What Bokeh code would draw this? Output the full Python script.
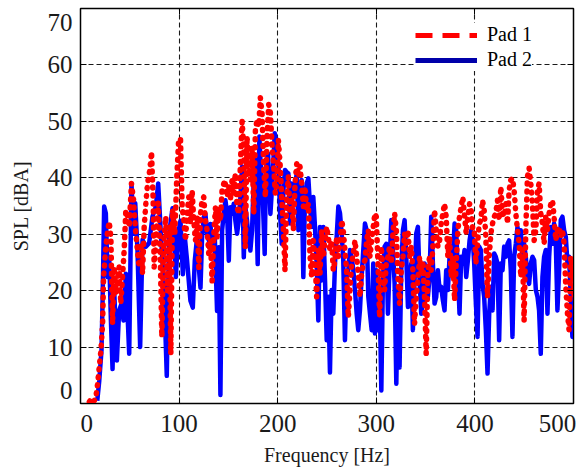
from bokeh.plotting import figure
from bokeh.models import Range1d, FixedTicker, LinearAxis, Legend, LegendItem
from bokeh.embed import file_html
from bokeh.resources import INLINE

# ---------------- data ----------------
series_names = ["Pad 1", "Pad 2"]
x_ticks = [0, 100, 200, 300, 400, 500]
y_ticks = [0, 10, 20, 30, 40, 50, 60, 70]

# shared frequency samples above 200 Hz
freq_hi = [
    200.7, 202.4, 204.1, 205.8, 207.4, 209.1, 210.8, 212.5, 214.2, 215.9,
    217.6, 219.3, 221.0, 222.6, 224.3, 226.0, 227.7, 229.4, 231.1, 232.8,
    234.5, 236.1, 237.8, 239.5, 241.2, 242.9, 244.6, 246.3, 248.0, 249.7,
    251.3, 253.0, 254.7, 256.4, 258.1, 259.8, 261.5, 263.2, 264.9, 266.5,
    268.2, 269.9, 271.6, 273.3, 275.0, 276.7, 278.4, 280.1, 281.7, 283.4,
    285.1, 286.8, 288.5, 290.2, 291.9, 293.6, 295.3, 296.9, 298.6,
    300.0, 301.7, 303.4, 305.1, 306.7, 308.4, 310.1, 311.8, 313.5, 315.2,
    316.9, 318.6, 320.3, 321.9, 323.6, 325.3, 327.0, 328.7, 330.4, 332.1,
    333.8, 335.5, 337.1, 338.8, 340.5, 342.2, 343.9, 345.6, 347.3, 349.0,
    350.6, 352.3, 354.0, 355.7, 357.4, 359.1, 360.8, 362.5, 364.2, 365.8,
    367.5, 369.2, 370.9, 372.6, 374.3, 376.0, 377.7, 379.4, 381.0, 382.7,
    384.4, 386.1, 387.8, 389.5, 391.2, 392.9, 394.6, 396.2, 397.9,
    399.3, 401.0, 402.7, 404.4, 406.0, 407.7, 409.4, 411.1, 412.8,
    414.5, 416.2, 417.9, 419.6, 421.2, 422.9, 424.6, 426.3, 428.0, 429.7,
    431.4, 433.1, 434.7, 436.4, 438.1, 439.8, 441.5, 443.2, 444.9, 446.6,
    448.3, 449.9, 451.6, 453.3, 455.0, 456.7, 458.4, 460.1, 461.8, 463.5,
    465.1, 466.8, 468.5, 470.2, 471.9, 473.6, 475.3, 477.0, 478.7, 480.3,
    482.0, 483.7, 485.4, 487.1, 488.8, 490.5, 492.2, 493.9, 495.5, 497.2,
    498.9, 500.6,
]

pad1_freq_lo = [
    9, 10.5, 12, 14, 15.6, 17.3, 19, 20.7, 22.4, 23.4,
    25.7, 27.5, 29.1, 30.8, 32.5, 34.2, 36, 37.6, 39.2, 40.9,
    42.6, 44.3, 46, 47.7, 49.4, 51.7, 53.8, 56.1, 57.8, 59.5,
    61.2, 62.9, 64.6, 66.3, 68, 70.3, 72, 73.7, 74.7, 76.4,
    78.8, 80.8, 82.5, 84.2, 86.5, 88.2, 89.9, 91.6, 93.3, 95.6,
    97.7, 99.5,
    101.4, 103.1, 104.8, 106.5, 108.1, 109.8, 111.5, 113.2, 114.9, 116.6,
    118.3, 120.0, 121.7, 123.3, 125.0, 126.7, 128.4, 130.1, 131.8, 133.5,
    135.2, 136.9, 138.5, 140.2, 141.9, 143.6, 146.3, 148.7, 150.4, 152.0,
    153.7, 155.4, 157.1, 158.8, 160.5, 162.2, 163.9, 165.6, 167.2, 168.9,
    170.6, 172.3, 174.0, 175.7, 177.4, 179.1, 180.8, 182.4, 184.1, 185.8,
    187.5, 189.2, 190.9, 192.6, 194.3, 196.0, 197.6, 199.3,
]
pad1_spl = [
    0.3, 0.8, 0.3, 0.5, 1.1, 3.4, 6.4, 9.4, 14.1, 22.4,
    27.8, 30.5, 32.2, 29.5, 14.1, 24.2, 19.5, 21.2, 24.2, 17.7,
    22.4, 27.2, 34.3, 33.0, 31.3, 39.0, 36.1, 30.1, 27.0, 24.2,
    28.4, 23.0, 31.3, 35.5, 39.0, 41.4, 44.6, 36.1, 24.2, 28.4,
    35.5, 27.2, 11.8, 28.4, 33.1, 20.0, 31.3, 8.8, 34.3, 30.1,
    40.2, 46.5,
    47.0, 34.8, 32.4, 28.9, 33.6, 36.6, 31.8, 37.8, 32.4, 28.9,
    33.0, 24.1, 33.6, 36.0, 36.6, 32.4, 30.7, 26.5, 28.9, 21.7,
    30.1, 34.8, 29.5, 34.8, 32.4, 37.8, 39.6, 36.6, 38.4, 36.0,
    39.6, 37.2, 40.8, 34.8, 33.6, 42.6, 50.0, 45.5, 27.7, 47.3,
    42.6, 39.6, 45.5, 33.6, 48.5, 50.3, 49.1, 54.2, 51.5, 42.0,
    36.6, 47.3, 53.0, 51.5, 45.5, 42.0, 37.2, 39.6,
    46.7, 42.5, 36.6, 30.7, 23.6, 36.6, 40.2, 33.7, 36.6, 30.7,
    39.0, 42.5, 40.2, 42.0, 39.0, 34.9, 38.4, 34.3, 35.4, 26.0,
    22.4, 28.9, 26.0, 18.9, 27.2, 23.0, 30.7, 26.0, 28.9, 31.3,
    29.5, 27.2, 28.9, 23.6, 25.4, 29.5, 26.0, 28.9, 32.5, 30.7,
    27.2, 23.6, 15.3, 20.1, 24.8, 26.6, 28.9, 26.0, 23.0, 18.9,
    23.0, 24.8, 25.4, 28.9, 30.7, 26.0, 28.9, 31.3, 33.7,
    33.1, 24.8, 15.3, 27.8, 23.6, 20.1, 24.8, 26.0, 27.8, 24.8,
    30.1, 33.7, 30.7, 22.4, 17.7, 23.6, 26.0, 30.1, 27.8, 30.7,
    26.0, 27.8, 23.6, 14.1, 18.9, 21.8, 26.0, 23.6, 24.8, 18.9,
    8.8, 23.6, 26.0, 23.6, 27.8, 34.3, 30.7, 27.8, 28.9, 31.9,
    33.7, 35.4, 33.1, 26.0, 29.5, 22.4, 26.0, 18.3, 24.8, 30.7,
    33.1, 34.9, 36.6, 33.1, 30.1, 33.1, 35.4, 34.3, 30.7,
    30.7, 24.8, 28.3, 31.9, 32.5, 36.0, 34.3, 29.5, 18.9,
    26.0, 30.1, 31.9, 33.1, 33.7, 36.0, 32.5, 38.4, 33.7, 33.1,
    35.4, 31.9, 37.8, 39.6, 39.9, 37.8, 33.7, 30.7, 28.3, 22.4,
    27.2, 14.7, 30.7, 40.2, 41.7, 39.0, 35.4, 28.9, 30.7, 37.8,
    39.0, 33.7, 31.9, 28.3, 33.1, 30.7, 33.7, 35.4, 36.0, 33.1,
    28.9, 30.7, 31.3, 29.5, 30.7, 28.3, 20.7, 15.9, 13.0, 26.0,
    23.6, 18.9,
]

pad2_freq_lo = [
    17, 19, 21.3, 22.4, 24.0, 25.7, 27.4, 29.1, 30.8, 32.5,
    34.2, 36.9, 39.2, 41.6, 43.6, 46.0, 49.4, 51.7, 53.8, 55.5,
    57.8, 60.5, 62.9, 66.3, 69.6, 73.0, 76.4, 78.8, 81.5, 84.8,
    87.5, 89.9, 93.3, 96.7, 99.0,
    101.4, 103.8, 105.8, 108.1, 111.5, 113.9, 115.9, 118.3, 120.0, 121.7,
    123.3, 125.0, 126.7, 128.4, 130.1, 131.8, 133.5, 136.2, 138.5, 140.2,
    141.9, 143.6, 145.3, 147.0, 148.7, 150.4, 152.0, 153.7, 155.4, 157.1,
    158.8, 160.5, 162.2, 163.9, 165.6, 167.2, 168.9, 170.6, 172.3, 174.0,
    175.7, 177.4, 179.7, 181.4, 183.5, 184.8, 186.8, 188.2, 190.2, 192.6,
    194.9, 197.0, 199.3,
]
pad2_spl = [
    0.5, 4.0, 9.4, 18.3, 34.9, 33.7, 22.4, 26.0, 15.0, 6.1,
    20.0, 7.6, 16.5, 17.7, 14.7, 23.0, 8.8, 39.0, 30.1, 35.5,
    27.2, 10.0, 29.0, 27.8, 28.4, 33.1, 34.9, 39.0, 30.1, 20.0,
    4.9, 30.1, 34.6, 22.4, 30.0,
    32.4, 22.9, 29.5, 25.3, 18.2, 17.0, 25.3, 29.5, 24.1, 20.5,
    29.5, 33.0, 33.6, 30.1, 28.9, 31.8, 27.7, 29.5, 16.4, 27.7,
    1.5, 30.7, 33.6, 36.0, 33.6, 25.3, 34.8, 33.6, 35.4, 32.4,
    30.1, 32.4, 36.6, 42.0, 25.9, 34.8, 32.4, 28.9, 27.1, 30.7,
    39.6, 43.2, 24.7, 47.3, 39.6, 36.6, 26.5, 42.6, 44.3, 33.6,
    40.2, 47.9, 45.5,
    42.5, 33.7, 28.3, 37.8, 41.4, 41.0, 40.8, 31.9, 39.0, 36.6,
    38.4, 40.8, 30.7, 36.6, 39.6, 22.4, 36.6, 39.0, 39.9, 34.9,
    31.3, 36.6, 31.3, 24.8, 14.7, 31.3, 21.8, 31.3, 21.8, 11.2,
    18.9, 5.5, 20.1, 15.9, 24.8, 29.5, 34.9, 33.7, 30.1, 25.4,
    11.2, 22.4, 23.6, 27.2, 26.0, 23.6, 20.1, 15.9, 13.0, 16.5,
    22.4, 27.2, 31.9, 30.7, 18.9, 15.9, 13.0, 24.8, 12.4,
    23.6, 13.0, 18.9, 2.3, 21.8, 27.8, 28.3, 15.9, 24.8, 32.5,
    27.2, 21.2, 3.5, 20.1, 6.4, 23.6, 30.7, 32.5, 26.0, 17.1,
    21.8, 24.8, 13.0, 21.8, 30.1, 31.3, 21.8, 15.9, 18.3, 24.8,
    21.8, 18.9, 22.4, 33.1, 24.8, 17.7, 18.9, 23.6, 20.1, 20.7,
    18.3, 16.5, 23.6, 20.1, 26.0, 27.8, 26.0, 31.9, 30.7, 23.6,
    15.9, 26.0, 24.8, 27.2, 22.4, 25.4, 28.9, 30.7, 28.9,
    24.8, 17.7, 11.8, 27.8, 27.2, 21.2, 18.9, 13.0, 5.3,
    15.9, 20.7, 16.5, 26.6, 26.0, 24.8, 11.2, 24.8, 23.6, 27.8,
    26.0, 28.3, 28.9, 23.6, 11.8, 26.0, 28.3, 31.3, 27.8, 30.7,
    24.8, 28.3, 26.0, 22.4, 21.2, 24.8, 26.0, 25.4, 20.1, 18.9,
    16.5, 8.8, 22.4, 26.0, 27.2, 15.9, 26.0, 31.3, 28.3, 31.9,
    28.9, 16.5, 23.6, 32.5, 33.1, 30.7, 29.5, 24.8, 26.0, 18.9,
    11.8, 14.1,
]

pad1_freq = pad1_freq_lo + freq_hi
pad2_freq = pad2_freq_lo + freq_hi
n1 = min(len(pad1_freq), len(pad1_spl))
n2 = min(len(pad2_freq), len(pad2_spl))

# ---------------- figure ----------------
FONT = "Liberation Serif"
TXT = "#1a1a1a"
NB = "\u00a0"

p = figure(frame_width=493, frame_height=395,
           min_border_left=80, min_border_right=9,
           min_border_top=8, min_border_bottom=66,
           x_range=Range1d(x_ticks[0], x_ticks[-1]),
           y_range=Range1d(y_ticks[0], y_ticks[-1]),
           output_backend="svg", toolbar_location=None,
           background_fill_color="white", border_fill_color="white")

p.outline_line_color = "black"
p.outline_line_width = 1.5

for ax in (p.xaxis[0], p.yaxis[0]):
    ax.major_label_text_font = FONT
    ax.major_label_text_font_size = "25px"
    ax.major_label_text_color = TXT
    ax.axis_label_text_font = FONT
    ax.axis_label_text_font_size = "20px"
    ax.axis_label_text_font_style = "normal"
    ax.axis_label_text_color = TXT
    ax.major_tick_in = 6
    ax.major_tick_out = 0
    ax.minor_tick_in = 0
    ax.minor_tick_out = 0
    ax.axis_line_color = "black"
    ax.major_tick_line_color = "black"

p.xaxis[0].ticker = FixedTicker(ticks=x_ticks)
p.yaxis[0].ticker = FixedTicker(ticks=y_ticks)
p.xaxis[0].axis_label = "Frequency [Hz]"
p.yaxis[0].axis_label = "SPL [dBA]"
p.xaxis[0].major_label_standoff = 6
p.yaxis[0].major_label_standoff = 8
p.xaxis[0].axis_label_standoff = 4
p.yaxis[0].axis_label_standoff = 13
p.yaxis[0].major_label_text_line_height = 0.32
# end labels pulled inside the frame extent, as in the original
p.xaxis[0].major_label_overrides = {
    x_ticks[0]: NB * 2 + str(x_ticks[0]),
    x_ticks[-1]: str(x_ticks[-1]) + NB,
}
p.yaxis[0].major_label_overrides = {
    y_ticks[0]: str(y_ticks[0]) + "\n\n\n",
    y_ticks[-1]: "\n" + str(y_ticks[-1]),
}

# inward ticks on the right and top
yr = LinearAxis(ticker=FixedTicker(ticks=y_ticks), major_label_text_font_size="0px",
                major_label_standoff=0, major_tick_in=6, major_tick_out=0,
                minor_tick_in=0, minor_tick_out=0, axis_line_color="black",
                major_tick_line_color="black")
yr.major_label_overrides = {t: "" for t in y_ticks}
p.add_layout(yr, "right")
xt = LinearAxis(ticker=FixedTicker(ticks=x_ticks), major_label_text_font_size="0px",
                major_label_standoff=0, major_tick_in=6, major_tick_out=0,
                minor_tick_in=0, minor_tick_out=0, axis_line_color="black",
                major_tick_line_color="black")
xt.major_label_overrides = {t: "" for t in x_ticks}
p.add_layout(xt, "above")

for g in (p.xgrid[0], p.ygrid[0]):
    g.grid_line_color = "#1a1a1a"
    g.grid_line_dash = "5 3"
    g.grid_line_width = 1.1

# data
r2 = p.line(pad2_freq[:n2], pad2_spl[:n2], line_color="#0000ff", line_width=4.5,
            line_join="round")
r1 = p.line(pad1_freq[:n1], pad1_spl[:n1], line_color="#ff0000", line_width=5.5,
            line_dash="1 7", line_cap="round", line_join="round")

# legend-only glyphs (no visible data)
nan = float("nan")
lg1 = p.line(x=[nan, nan], y=[nan, nan], line_color="#ff0000", line_width=5,
             line_dash="17 10")
lg2 = p.line(x=[nan, nan], y=[nan, nan], line_color="#0000aa", line_width=5)

legend = Legend(items=[LegendItem(label=series_names[0], renderers=[lg1]),
                       LegendItem(label=series_names[1], renderers=[lg2])],
                location=(335, 332), glyph_width=62, glyph_height=22,
                label_height=22, label_standoff=10, spacing=2, padding=6, margin=0,
                border_line_color=None, background_fill_color="white",
                background_fill_alpha=1.0, label_text_font=FONT,
                label_text_font_size="20px", label_text_color="black")
p.add_layout(legend)

open("out.html", "w").write(file_html(p, INLINE))
